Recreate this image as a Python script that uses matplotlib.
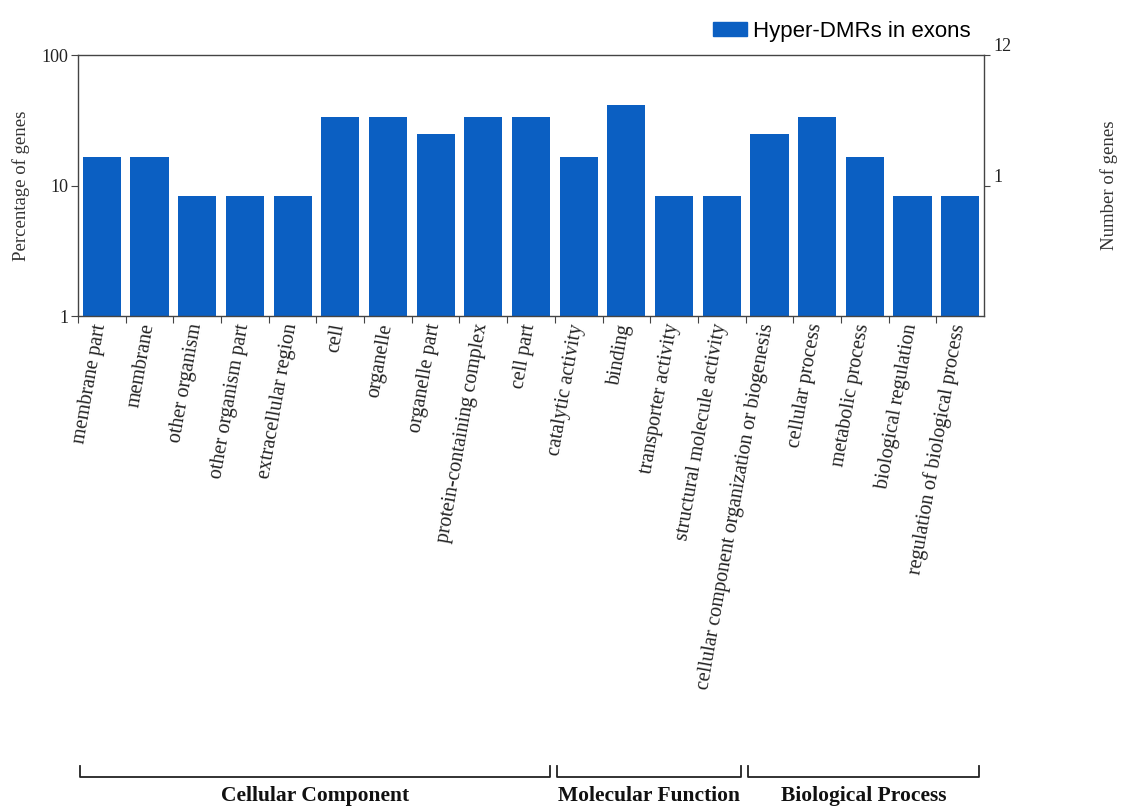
import matplotlib.pyplot as plt
import matplotlib.transforms as mtransforms
from matplotlib.patches import Patch
import numpy as np

plt.rcParams['font.family'] = ['Liberation Serif', 'DejaVu Serif']

# GO terms and percentage of genes (12 genes in total)
terms = ["membrane part", "membrane", "other organism", "other organism part",
         "extracellular region", "cell", "organelle", "organelle part",
         "protein-containing complex", "cell part", "catalytic activity",
         "binding", "transporter activity", "structural molecule activity",
         "cellular component organization or biogenesis", "cellular process",
         "metabolic process", "biological regulation",
         "regulation of biological process"]
gene_counts = [2, 2, 1, 1, 1, 4, 4, 3, 4, 4, 2, 5, 1, 1, 3, 4, 2, 1, 1]
total_genes = 12
percent = [100.0 * c / total_genes for c in gene_counts]

groups = ["Cellular Component", "Molecular Function", "Biological Process"]
group_ranges = [(0, 9), (10, 13), (14, 18)]

right_ticks = [10, 100]
right_labels = ["1", "12"]

bar_color = "#0b5fc2"
axis_color = "#444444"

fig = plt.figure(figsize=(11.21, 8.07), dpi=100)
ax = fig.add_axes([0.0696, 0.6084, 0.8082, 0.3234])

x = np.arange(len(terms))
ax.bar(x, percent, width=0.8, color=bar_color, zorder=2)
ax.set_yscale("log")
ax.set_ylim(1, 100)
ax.set_xlim(-0.5, len(terms) - 0.5)
ax.set_yticks([1, 10, 100])
ax.set_yticklabels(["1", "10", "100"], fontsize=13, color="#222222")
ax.minorticks_off()
ax.tick_params(axis="y", length=5, width=0.8, color=axis_color, pad=2)

# ticks between bars, labels centred on bars
ax.set_xticks(x - 0.5, minor=False)
ax.set_xticklabels([])
ax.tick_params(axis="x", length=5, width=0.8, color=axis_color)
for xi, name in zip(x, terms):
    ax.text(xi - 0.02, -0.03, name, rotation=80, rotation_mode="anchor",
            ha="right", va="center", fontsize=14.5, color="#222222",
            transform=ax.get_xaxis_transform())

for sp in ax.spines.values():
    sp.set_color(axis_color)
    sp.set_linewidth(1.0)

ax.set_ylabel("Percentage of genes", fontsize=13.5, color="#333333", labelpad=8)

# right axis: number of genes
ax2 = ax.twinx()
ax2.set_yscale("log")
ax2.set_ylim(1, 100)
ax2.set_yticks(right_ticks)
ax2.set_yticklabels(right_labels, fontsize=13, color="#222222")
ax2.minorticks_off()
ax2.tick_params(axis="y", length=4, width=0.8, color=axis_color, pad=3)
for lbl in ax2.get_yticklabels():
    lbl.set_va("bottom")
for sp in ax2.spines.values():
    sp.set_visible(False)
fig.text(0.989, 0.77, "Number of genes", rotation=90, ha="center",
         va="center", fontsize=13.5, color="#333333")

# legend
fig.legend(handles=[Patch(color=bar_color, label="Hyper-DMRs in exons")],
           loc="upper right", bbox_to_anchor=(0.884, 0.999), frameon=False,
           prop={"family": "Liberation Sans", "size": 16},
           handlelength=1.5, handleheight=0.6, handletextpad=0.3)

# category brackets below the labels
trans = mtransforms.blended_transform_factory(ax.transData, fig.transFigure)
y_top, y_bot = 1 - 766 / 807, 1 - 777 / 807
for name, (a, b) in zip(groups, group_ranges):
    x0, x1 = a - 0.45, b + 0.4
    ax.plot([x0, x0, x1, x1], [y_top, y_bot, y_bot, y_top], color="#222222",
            lw=1.3, transform=trans, clip_on=False)
    ax.text((x0 + x1) / 2, 1 - 796 / 807, name, ha="center", va="center",
            fontsize=15.5, fontweight="bold", color="#111111", transform=trans)

fig.savefig("out.png", dpi=100, facecolor="white")
